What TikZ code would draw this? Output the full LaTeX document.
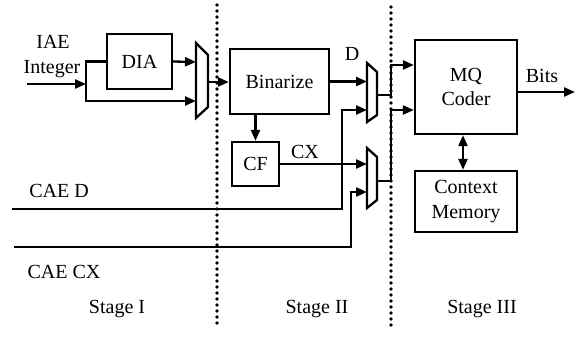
\documentclass[tikz,border=0pt]{standalone}
\usepackage{fontspec}
\setmainfont{Liberation Serif}
\usetikzlibrary{arrows.meta}
\begin{document}
\begin{tikzpicture}[x=1pt,y=-1pt,
  wire/.style={line width=2.3pt},
  arr/.style={wire,-{Triangle[length=11pt,width=9pt]}},
  darr/.style={wire,{Triangle[length=11pt,width=9pt]}-{Triangle[length=11pt,width=9pt]}},
  blk/.style={draw,line width=2.3pt,inner sep=0pt,align=center,
              font=\fontsize{20}{24.5}\selectfont},
  lbl/.style={inner sep=0pt,anchor=base,font=\fontsize{20}{24}\selectfont},
  mux/.style={draw,line width=2.3pt,line join=miter},
  sep/.style={line width=3.8pt,dash pattern=on 0pt off 6pt,line cap=round}]
\useasboundingbox (0,0) rectangle (576,337);

% stage separators
\draw[sep] (217,5) -- (217,327);
\draw[sep] (391,7) -- (391,327);

% blocks
\node[blk,minimum width=65pt,minimum height=55pt] (dia) at (139.5,61.5) {DIA};
\node[blk,minimum width=99pt,minimum height=65pt] (bin) at (279.5,81.5) {Binarize};
\node[blk,minimum width=47pt,minimum height=44pt] (cf) at (255.5,164) {CF};
\node[blk,minimum width=102pt,minimum height=94pt] (mq) at (466,87) {MQ\\Coder};
\node[blk,minimum width=102pt,minimum height=61pt] (cm) at (466,201.5) {Context\\Memory};

% multiplexers
\draw[mux] (196,43) -- (208,55) -- (208,107) -- (196,118) -- cycle;
\coordinate (m1a) at (196,62);
\coordinate (m1b) at (196,101);
\coordinate (m1o) at (208,82);
\draw[mux] (367,63) -- (377,72) -- (377,115) -- (367,122) -- cycle;
\coordinate (m2a) at (367,81.5);
\coordinate (m2b) at (367,110);
\coordinate (m2o) at (377,95);
\draw[mux] (367,148) -- (377,157) -- (377,200) -- (367,208) -- cycle;
\coordinate (m3a) at (367,164);
\coordinate (m3b) at (367,192);
\coordinate (m3o) at (377,181);

% free ends and junctions
\coordinate (inI) at (27,84);
\coordinate (jI) at (86,84);
\coordinate (inD) at (12,209);
\coordinate (inCX) at (14,247);
\coordinate (bits) at (575,92);

% stage I wiring
\draw[arr] (inI) -- (jI);
\draw[wire] (dia.west) -| (jI);
\draw[arr] (jI) |- (m1b);
\draw[arr] (dia.east) -- (m1a);
\draw[arr] (m1o) -- (m1o -| bin.west);

% stage II wiring
\draw[arr] (bin.east) -- (m2a);
\draw[arr] (bin.south -| cf.north) -- (cf.north);
\draw[arr] (cf.east) -- (m3a);
\draw[arr] (inD) -- (342,209) |- (m2b);
\draw[arr] (inCX) -- (351,247) |- (m3b);

% stage III wiring
\draw[arr] (m2o) -- (391,95) |- (mq.west |- 0,65);
\draw[arr] (m3o) -- (391,181) |- (mq.west |- 0,110);
\draw[arr] (mq.east |- bits) -- (bits);
\draw[darr] (mq.south -| 463,0) -- (cm.north -| 463,0);

% labels
\node[lbl] (lIAE) at (53,49) {IAE};
\node[lbl] (lInt) at (52,74) {Integer};
\node[lbl] (lD) at (352,61) {D};
\node[lbl] (lCX) at (305,158) {CX};
\node[lbl] (lCAED) at (59,197) {CAE D};
\node[lbl] (lCAECX) at (64,278) {CAE CX};
\node[lbl] (lBits) at (542,82) {Bits};
\node[lbl] (s1) at (117,313) {Stage I};
\node[lbl] (s2) at (317,313) {Stage II};
\node[lbl] (s3) at (482,313) {Stage III};
\end{tikzpicture}
\end{document}
